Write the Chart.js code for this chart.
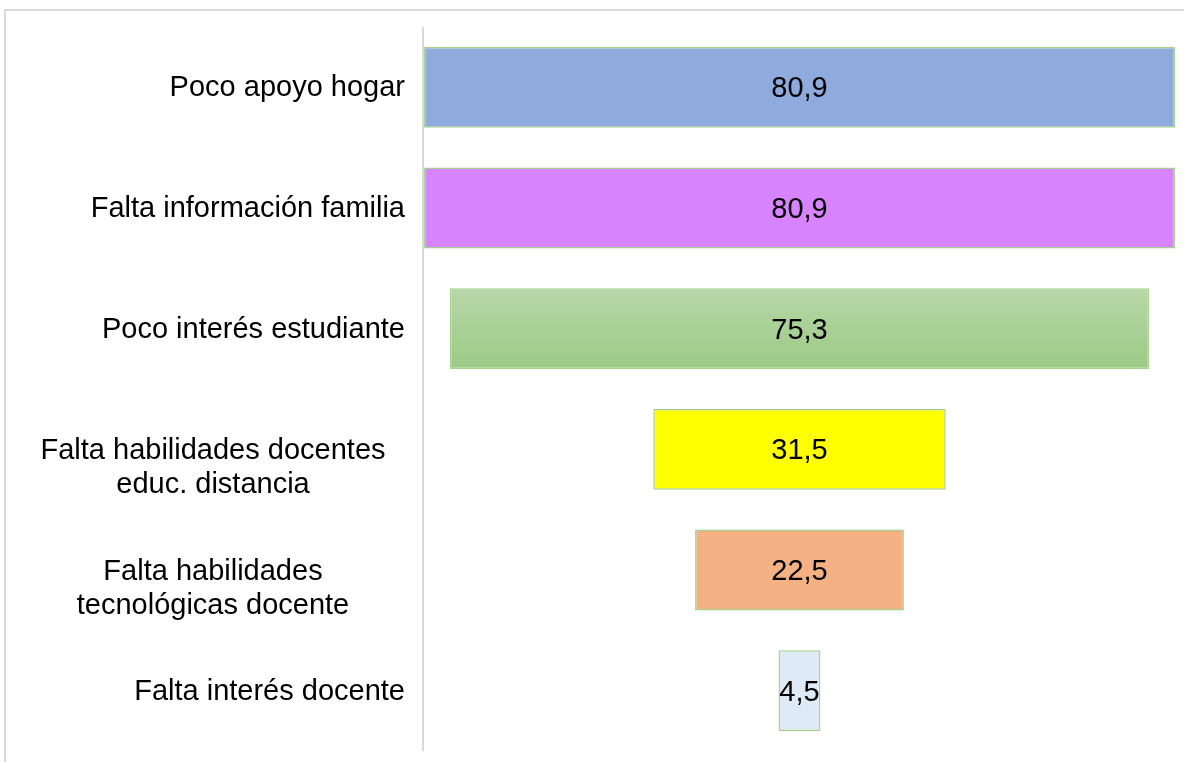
<!DOCTYPE html>
<html>
<head>
<meta charset="utf-8">
<script src="https://cdn.jsdelivr.net/npm/chart.js@4"></script>
<style>
  html, body { margin: 0; padding: 0; background: #fff; overflow: hidden; }
  #wrap { position: relative; width: 1184px; height: 762px; }
  #frame { position: absolute; left: 4px; top: 9px; width: 1300px; height: 900px;
           border: 2px solid #d9d9d9; pointer-events: none; }
</style>
</head>
<body>
<div id="wrap">
  <canvas id="funnel" width="1184" height="762"></canvas>
  <div id="frame"></div>
</div>
<script>
const categories = [
    'Poco apoyo hogar',
    'Falta información familia',
    'Poco interés estudiante',
    ['Falta habilidades docentes', 'educ. distancia'],
    ['Falta habilidades', 'tecnológicas docente'],
    'Falta interés docente'
];
const values = [80.9, 80.9, 75.3, 31.5, 22.5, 4.5];
const barColors = ['#8faadc', '#d883ff', 'green', '#ffff00', '#f4b183', '#deebf7'];

const maxValue = Math.max(...values);
// funnel: each bar centered on half of the largest value
const spans = values.map(v => [(maxValue - v) / 2, (maxValue + v) / 2]);

const ctx = document.getElementById('funnel');

const funnelLabels = {
    id: 'funnelLabels',
    afterDatasetsDraw(chart) {
        const c = chart.ctx;
        const area = chart.chartArea;
        const yScale = chart.scales.y;
        const xScale = chart.scales.x;
        c.save();
        // axis line
        c.strokeStyle = '#d9d9d9';
        c.lineWidth = 2;
        c.beginPath();
        c.moveTo(area.left - 1, area.top);
        c.lineTo(area.left - 1, area.bottom);
        c.stroke();

        c.font = '29px "Liberation Sans", Arial, sans-serif';
        c.fillStyle = '#000';
        c.textBaseline = 'middle';
        categories.forEach((lab, i) => {
            const y = yScale.getPixelForTick(i);
            if (Array.isArray(lab)) {
                c.textAlign = 'center';
                lab.forEach((line, k) => {
                    c.fillText(line, 213, y + 2 + k * 34);
                });
            } else {
                c.textAlign = 'right';
                c.fillText(lab, area.left - 19, y + 1);
            }
            c.textAlign = 'center';
            const xc = xScale.getPixelForValue((spans[i][0] + spans[i][1]) / 2);
            c.fillText(String(values[i]).replace('.', ','), xc, y + 2);
        });
        c.restore();
    }
};

new Chart(ctx, {
    type: 'bar',
    data: {
        labels: categories,
        datasets: [{
            data: spans,
            backgroundColor: function(context) {
                const col = barColors[context.dataIndex];
                if (col !== 'green') return col;
                const chart = context.chart;
                if (!chart.chartArea) return '#a9d08e';
                const y = chart.scales.y.getPixelForValue(context.dataIndex);
                const g = chart.ctx.createLinearGradient(0, y - 40, 0, y + 40);
                g.addColorStop(0, '#b7d7a8');
                g.addColorStop(1, '#9bca85');
                return g;
            },
            borderColor: '#a9d18e',
            borderWidth: 1.5,
            borderSkipped: false,
            barPercentage: 0.67,
            categoryPercentage: 1
        }]
    },
    options: {
        indexAxis: 'y',
        responsive: false,
        animation: false,
        layout: {
            padding: { left: 424, right: 9, top: 27, bottom: 11 }
        },
        scales: {
            x: { display: false, min: 0, max: maxValue },
            y: { display: false }
        },
        plugins: {
            legend: { display: false },
            tooltip: { enabled: false }
        }
    },
    plugins: [funnelLabels]
});
</script>
</body>
</html>
